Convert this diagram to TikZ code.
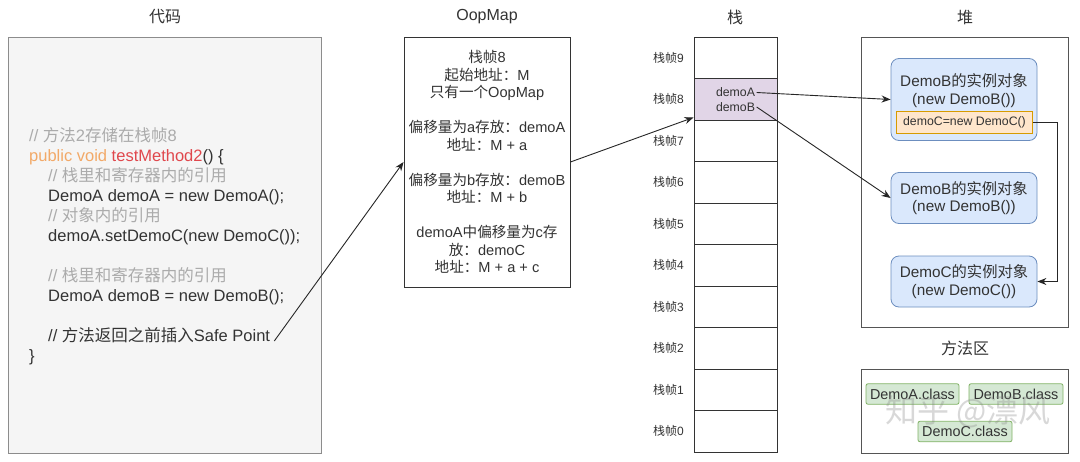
\documentclass[tikz,border=0pt]{standalone}
\usepackage{fontspec}
\setmainfont{Liberation Sans}
\newfontfamily\zhfont{Noto Sans CJK SC}
\newcommand{\zht}[1]{{\zhfont #1}}
\usetikzlibrary{arrows.meta,calc}
\definecolor{txt}{HTML}{333333}
\definecolor{cgray}{HTML}{ABABAB}
\definecolor{corange}{HTML}{F2A968}
\definecolor{cred}{HTML}{E0474C}
\definecolor{codefill}{HTML}{F5F5F5}
\definecolor{codeline}{HTML}{8C8C8C}
\definecolor{purplefill}{HTML}{E1D5E7}
\definecolor{bluefill}{HTML}{DAE8FC}
\definecolor{blueline}{HTML}{6C8EBF}
\definecolor{orfill}{HTML}{FFE6CC}
\definecolor{orline}{HTML}{D79B00}
\definecolor{grfill}{HTML}{D5E8D4}
\definecolor{grline}{HTML}{82B366}
\definecolor{boxline}{HTML}{555555}
\begin{document}
\begin{tikzpicture}[x=1pt,y=-1pt,
  title/.style={text=txt,font=\fontsize{16}{19}\selectfont,inner sep=0},
  codebox/.style={draw=codeline,fill=codefill,line width=0.9pt,inner sep=0},
  codetext/.style={anchor=base west,inner sep=0,text=txt,font=\fontsize{16.5}{20}\selectfont},
  plainbox/.style={draw=txt,fill=white,line width=0.9pt,inner sep=0},
  optext/.style={align=center,text=txt,inner sep=0,font=\fontsize{14.6}{17.5}\selectfont},
  srow/.style={draw=txt,fill=white,line width=0.9pt,minimum width=83pt,minimum height=41.5pt,inner sep=0},
  slabel/.style={anchor=east,inner sep=0,text=txt,font=\fontsize{12}{14}\selectfont},
  stxt/.style={inner sep=1.5pt,text=txt,font=\fontsize{12.3}{14}\selectfont},
  areabox/.style={draw=boxline,fill=white,line width=0.9pt,inner sep=0},
  obj/.style={draw=blueline,fill=bluefill,rounded corners=8pt,line width=0.8pt,minimum width=146pt,inner sep=0,align=center,text=txt,font=\fontsize{15.3}{17.6}\selectfont},
  orbox/.style={draw=orline,fill=orfill,line width=0.8pt,minimum width=136pt,minimum height=22pt,inner sep=0,text=txt,font=\fontsize{12.3}{14}\selectfont},
  clsbox/.style={draw=grline,fill=grfill,rounded corners=2pt,line width=0.8pt,minimum height=20.5pt,inner sep=0,text=txt,font=\fontsize{14.4}{17}\selectfont},
  arr/.style={draw=black!85,line width=0.9pt,-{Stealth[length=9pt,width=7pt]}},
  conn/.style={draw=black!85,line width=0.9pt}
]
\useasboundingbox (0,0) rectangle (1080,461);
\fill[white] (0,0) rectangle (1080,461);

% titles
\node[title] (tcode) at (165,17) {\zht{代码}};
\node[title] (top) at (487,17) {OopMap};
\node[title] (tstack) at (735,17) {\zht{栈}};
\node[title] (theap) at (965,17) {\zht{堆}};
\node[title] (tma) at (965,348) {\zht{方法区}};

% code
\node[codebox,minimum width=313pt,minimum height=416pt] (code) at (164.5,245) {};
\node[codetext,text=cgray] (c1) at (29,141) {// \zht{方法}2\zht{存储在栈帧}8};
\node[codetext] (c2) at (29,161) {\textcolor{corange}{public void} \textcolor{cred}{testMethod2}() \{};
\node[codetext,text=cgray] (c3) at (48,181) {// \zht{栈里和寄存器内的引用}};
\node[codetext] (c4) at (48,201) {DemoA demoA = new DemoA();};
\node[codetext,text=cgray] (c5) at (48,221) {// \zht{对象内的引用}};
\node[codetext] (c6) at (48,241) {demoA.setDemoC(new DemoC());};
\node[codetext,text=cgray] (c7) at (48,281) {// \zht{栈里和寄存器内的引用}};
\node[codetext] (c8) at (48,301) {DemoA demoB = new DemoB();};
\node[codetext] (c9) at (48,341) {// \zht{方法返回之前插入}Safe Point};
\node[codetext] (c10) at (29,361) {\}};

% OopMap
\node[plainbox,minimum width=166pt,minimum height=250pt] (op) at (487,162) {};
\node[optext] (opt) at (487,162) {\zht{栈帧}8\\
\zht{起始地址：}M\\
\zht{只有一个}OopMap\\[17.5pt]
\zht{偏移量为}a\zht{存放：}demoA\\
\zht{地址：}M + a\\[17.5pt]
\zht{偏移量为}b\zht{存放：}demoB\\
\zht{地址：}M + b\\[17.5pt]
demoA\zht{中偏移量为}c\zht{存}\\
\zht{放：}demoC\\
\zht{地址：}M + a + c};

% stack
\foreach \k in {0,...,7,9} {
  \node[srow] (r\k) at (735.5,{37+(9-\k)*41.5+20.75}) {};
}
\node[srow,fill=purplefill] (r8) at (735.5,99.25) {};
\foreach \k in {0,...,9} {
  \node[slabel] (l\k) at (684,{37+(9-\k)*41.5+20.75}) {\zht{栈帧}\k};
}
\node[stxt] (dA) at (735.5,92.5) {demoA};
\node[stxt] (dB) at (735.5,107) {demoB};

% heap
\node[areabox,minimum width=207pt,minimum height=290pt] (heap) at (964.5,182) {};
\node[obj,minimum height=82pt] (o1) at (964,99.5) {};
\node[obj,draw=none,fill=none] (o1t) at (964,90.5) {DemoB\zht{的实例对象}\\(new DemoB())};
\node[orbox] (or) at (964.5,122.5) {demoC=new DemoC()};
\node[obj,minimum height=51pt] (o2) at (964,198) {DemoB\zht{的实例对象}\\(new DemoB())};
\node[obj,minimum height=51pt] (o3) at (964,281.5) {DemoC\zht{的实例对象}\\(new DemoC())};

% method area
\node[areabox,minimum width=207pt,minimum height=84pt] (ma) at (964.5,411) {};
\node[clsbox,minimum width=93pt] (gA) at (912.5,394) {DemoA.class};
\node[clsbox,minimum width=94pt] (gB) at (1016,394) {DemoB.class};
\node[clsbox,minimum width=94pt] (gC) at (965,431.5) {DemoC.class};

% connectors
\draw[arr] ($(c9.base east)+(4,0)$) -- (op.west);
\draw[arr] (op.east) -- ($(r8.south west)+(0,-3)$);
\draw[arr] (dA.east) -- (o1.west);
\draw[arr] (dB.east) -- (o2.west);
\draw[arr] (or.east) -- ++(25,0) |- (o3.east);

% watermark
\node[text=gray,opacity=0.3,inner sep=0,font=\zhfont\fontsize{32}{32}\selectfont] (wm) at (968,412) {知乎 @漂风};
\end{tikzpicture}
\end{document}
